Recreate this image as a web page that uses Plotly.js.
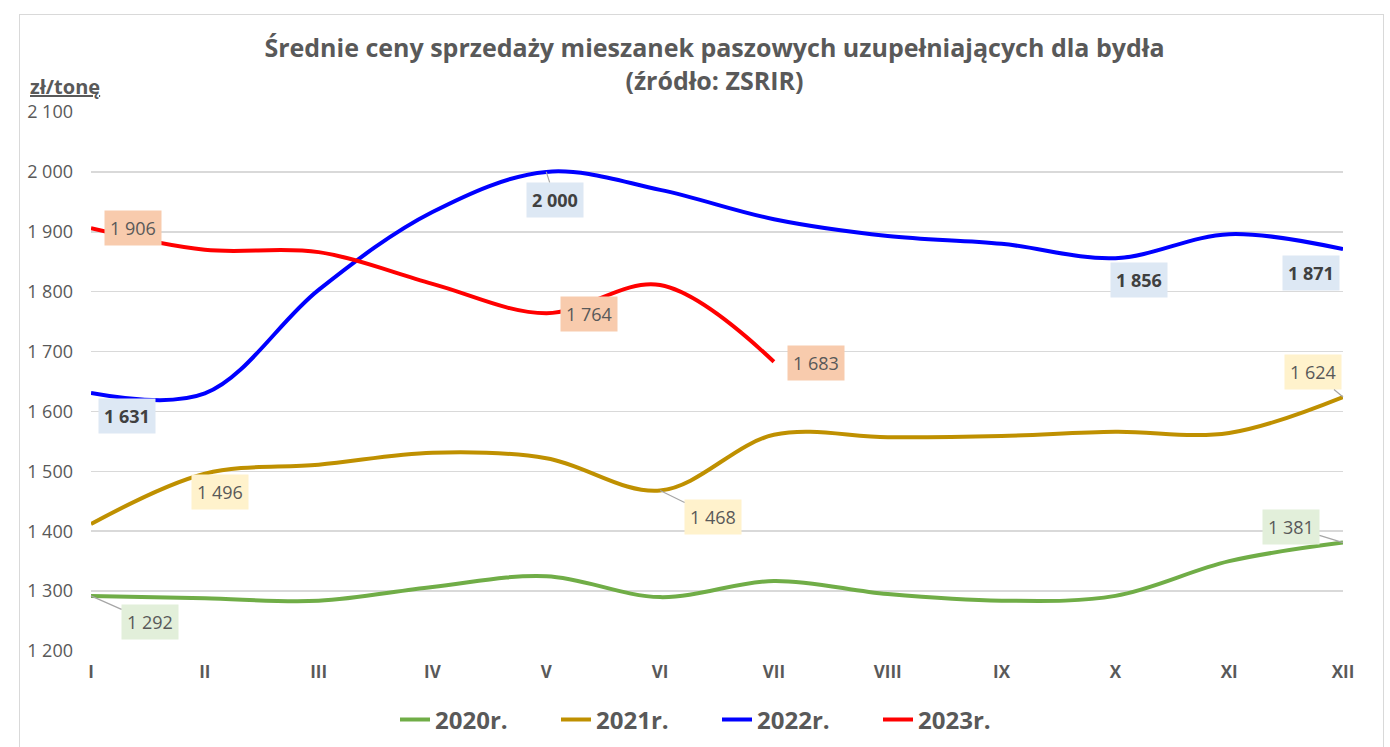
<!DOCTYPE html>
<html><head><meta charset="utf-8">
<script src="https://cdn.plot.ly/plotly-3.0.1.min.js"></script>
<style>
html,body{margin:0;padding:0;background:#fff;}
#wrap{position:relative;width:1390px;height:747px;}
#frame{position:absolute;left:19px;top:14px;width:1365px;height:735px;border:1px solid #d9d9d9;box-sizing:border-box;pointer-events:none;z-index:5;}
#chart{position:absolute;left:0;top:0;width:1390px;height:747px;}
</style></head>
<body><div id="wrap"><div id="chart"></div><div id="frame"></div></div>
<script>
const months = ['I','II','III','IV','V','VI','VII','VIII','IX','X','XI','XII'];
const y2020 = [1292,1288,1284,1307,1325,1290,1317,1295,1284,1292,1350,1381];
const y2021 = [1412,1496,1511,1531,1522,1468,1561,1557,1559,1566,1564,1624];
const y2022 = [1631,1630,1803,1933,2000,1970,1921,1893,1880,1856,1896,1871];
const y2023 = [1906,1870,1866,1813,1764,1811,1683];
const seriesNames = ['2020r.','2021r.','2022r.','2023r.'];
const colors = ['#70ad47','#bf9000','#0000ff','#ff0000'];

function fmt(v){ return String(v).replace(/\B(?=(\d{3})+(?!\d))/g,' '); }

const all = [y2020,y2021,y2022,y2023];
const traces = all.map((ys,i)=>({
  x: months.slice(0,ys.length), y: ys, name: seriesNames[i], type:'scatter', mode:'lines',
  line:{color:colors[i], width:4, shape:'spline', smoothing:1}, hoverinfo:'skip'
}));

const gray='#595959';
const FF='Open Sans, sans-serif';
const lf = {family:FF, size:18, color:gray};
const lfb = {family:FF, size:18, color:'#404040', weight:'bold'};
function lab(series, idx, bg, font, opts){
  return Object.assign({x: months[idx], y: series[idx], xref:'x', yref:'y', text: fmt(series[idx]),
    font: font, bgcolor: bg, borderpad:5, showarrow:false}, opts);
}
function leader(series, idx, bg, font, ax, ay){
  return {x: months[idx], y: series[idx], xref:'x', yref:'y', text: fmt(series[idx]), font:font, bgcolor:bg,
    borderpad:5, showarrow:true, arrowhead:0, arrowwidth:1.2, arrowcolor:'#a6a6a6', ax:ax, ay:ay, standoff:0};
}
const bgB='#dde8f4', bgG='#fff2cc', bgGr='#e2efda', bgR='#f8cbad';
const annotations = [
  lab(y2023,0,bgR,lf,{xshift:42,yshift:0}),
  lab(y2023,4,bgR,lf,{xshift:43,yshift:-1}),
  lab(y2023,6,bgR,lf,{xshift:42,yshift:-1}),
  leader(y2022,4,bgB,lfb,9,28),
  lab(y2022,9,bgB,lfb,{xshift:24,yshift:-22}),
  lab(y2022,11,bgB,lfb,{xshift:-32,yshift:-24}),
  lab(y2022,0,bgB,lfb,{xshift:36,yshift:-23}),
  lab(y2021,1,bgG,lf,{xshift:15,yshift:-18}),
  leader(y2021,5,bgG,lf,53,26),
  leader(y2021,11,bgG,lf,-30,-25),
  leader(y2020,11,bgGr,lf,-52,-16),
  leader(y2020,0,bgGr,lf,59,26),
  {x:0, xref:'paper', xanchor:'left', xshift:-63, y:1, yref:'paper', yanchor:'bottom', yshift:10,
   text:'<u><b>zł/tonę</b></u>', showarrow:false, font:{family:FF, size:20, color:gray}}
];

const layout = {
  width:1390, height:747, paper_bgcolor:'#fff', plot_bgcolor:'#fff',
  margin:{l:91, r:47, t:112, b:96, autoexpand:false},
  separators:', ',
  title:{text:'<b>Średnie ceny sprzedaży mieszanek paszowych uzupełniających dla bydła<br>(źródło: ZSRIR)</b>',
    x:0.514, xanchor:'center', yref:'container', y:1-57/747, yanchor:'middle',
    font:{family:FF, size:25, color:gray}},
  xaxis:{type:'category', range:[0,11], showgrid:false, zeroline:false, showline:false, ticks:'',
    tickfont:{family:FF, size:17, color:gray, weight:'bold'}, ticklabelstandoff:9, fixedrange:true},
  yaxis:{range:[1200,2100], dtick:100, tick0:1200, showgrid:true, gridcolor:'#d9d9d9', gridwidth:1.5,
    zeroline:false, showline:false, ticks:'', separatethousands:true, tickformat:',d',
    tickfont:{family:FF, size:18, color:gray}, ticklabelstandoff:17},
  legend:{orientation:'h', x:0.5, xanchor:'center', y:-0.086, yanchor:'top',
    font:{family:FF, size:24, color:gray, weight:'bold'}, itemwidth:30, entrywidth:116, entrywidthmode:'pixels', tracegroupgap:0},
  showlegend:true,
  annotations: annotations
};
Plotly.newPlot('chart', traces, layout, {staticPlot:true});
</script></body></html>
